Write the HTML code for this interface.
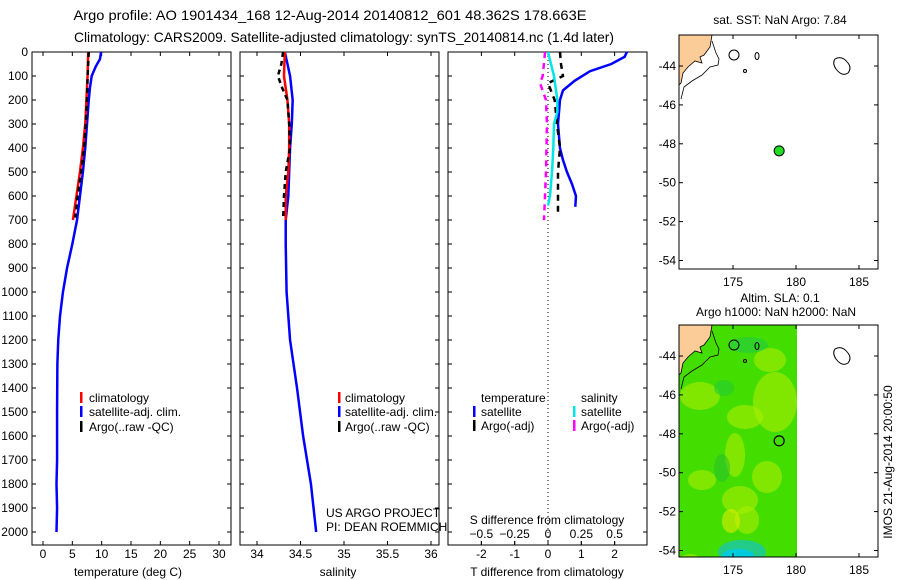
<!DOCTYPE html>
<html><head><meta charset="utf-8"><style>
body{margin:0;background:#fff;}
svg{display:block;font-family:"Liberation Sans",sans-serif;}
text{font-size:12px;fill:#000;}
</style></head><body>
<svg id="c" width="900" height="580">
<defs>
<clipPath id="m2clip"><rect x="679" y="325" width="118" height="232"/></clipPath>
</defs>
<text x="330" y="20" text-anchor="middle" style="font-size:14px" textLength="513" lengthAdjust="spacingAndGlyphs">Argo profile: AO 1901434_168 12-Aug-2014 20140812_601 48.362S 178.663E</text>
<text x="344" y="42" text-anchor="middle" style="font-size:14px" textLength="540" lengthAdjust="spacingAndGlyphs">Climatology: CARS2009. Satellite-adjusted climatology: synTS_20140814.nc (1.4d later)</text>
<g id="g"></g>
</svg>
<script>
// ---- data ----
const depthTicks=[0,100,200,300,400,500,600,700,800,900,1000,1100,1200,1300,1400,1500,1600,1700,1800,1900,2000];
const tTicks=[0,5,10,15,20,25,30];
const sTicks=[34,34.5,35,35.5,36];
const dTTicks=[-2,-1,0,1,2];
const dSTicks=[-0.5,-0.25,0,0.25,0.5];
const dSLabels=["−0.5","−0.25","0","0.25","0.5"];
const tClimDepth=[0,100,200,300,400,500,600,700];
const tClim=[7.7,7.6,7.4,7.2,6.8,6.3,5.7,5.1];
const tArgoDepth=[0,50,100,200,300,400,500,600,690];
const tArgo=[7.8,7.7,7.6,7.5,7.3,7.0,6.5,5.9,5.5];
const tSatDepth=[0,30,60,100,150,200,300,400,500,600,700,800,900,1000,1100,1200,1300,1500,1700,1800,1900,2000];
const tSat=[9.9,9.7,9.0,8.3,8.0,7.8,7.5,7.2,6.8,6.3,5.8,5.0,4.1,3.4,2.9,2.6,2.45,2.4,2.4,2.3,2.4,2.3];
const sClimDepth=[0,100,200,300,400,500,600,700];
const sClim=[34.32,34.31,34.35,34.37,34.37,34.36,34.33,34.33];
const sArgoDepth=[0,50,100,150,200,300,400,500,600,700];
const sArgo=[34.30,34.28,34.24,34.29,34.35,34.37,34.38,34.33,34.31,34.30];
const sSatDepth=[0,50,100,200,300,400,500,600,700,800,1000,1200,1400,1600,1800,2000];
const sSat=[34.32,34.35,34.38,34.41,34.40,34.38,34.37,34.36,34.33,34.33,34.34,34.38,34.46,34.53,34.62,34.68];
const dTSatDepth=[0,20,50,80,120,160,200,300,400,450,500,550,600,645];
const dTSat=[2.37,2.3,1.9,1.26,0.8,0.45,0.36,0.3,0.36,0.45,0.57,0.72,0.84,0.82];
const dTArgoDepth=[0,50,100,130,200,300,400,500,600,680];
const dTArgo=[0.36,0.39,0.45,0.0,0.2,0.27,0.36,0.3,0.3,0.3];
const dSSatDepth=[0,100,200,250,300,400,500,600,640];
const dSSat=[0.0,0.045,0.07,0.07,0.045,0.04,0.03,0.015,0.0];
const dSArgoDepth=[0,100,130,200,300,500,700];
const dSArgo=[-0.022,-0.04,-0.06,-0.015,-0.008,-0.015,-0.03];
const latTicks=[-44,-46,-48,-50,-52,-54];
const lonTicks=[175,180,185];
const argoLon=[178.663], argoLat=[-48.362];

// ---- helpers ----
const NS="http://www.w3.org/2000/svg";
const G=document.getElementById('g');
function el(t,a,p){const e=document.createElementNS(NS,t);for(const k in a)e.setAttribute(k,a[k]);(p||G).appendChild(e);return e;}
const Y0=52,YB=545;
const yD=d=>Y0+d*0.24;
const xT=v=>43+v*5.867;
const xS=v=>257+(v-34)*87;
const xdT=v=>548+v*33.3;
const xdS=v=>548+v*133.3;
function line(xs,ds,fx,color,dash,name){
  const p=el('polyline',{points:xs.map((v,i)=>fx(v)+','+yD(ds[i])).join(' '),fill:'none',stroke:color,'stroke-width':2.5,'stroke-dasharray':dash||'none'});
  
  
}
function panel(x0,x1,name){
  const r=el('rect',{x:x0,y:Y0,width:x1-x0,height:YB-Y0,fill:'none',stroke:'#000','stroke-width':1});
  
  
  depthTicks.forEach(d=>{el('line',{x1:x0,x2:x0+4,y1:yD(d),y2:yD(d),stroke:'#000'});el('line',{x1:x1,x2:x1-4,y1:yD(d),y2:yD(d),stroke:'#000'});});
}
function xticks(vals,fx,labels,y,top){
  vals.forEach((v,i)=>{const x=fx(v);
    el('line',{x1:x,x2:x,y1:YB,y2:YB-4,stroke:'#000'});
    if(top) el('line',{x1:x,x2:x,y1:Y0,y2:Y0+4,stroke:'#000'});
    const t=el('text',{x:x,y:y,'text-anchor':'middle'});t.textContent=labels?labels[i]:String(v);
    
    
  });
}
function txt(s,x,y,name,anchor){const t=el('text',{x:x,y:y,'text-anchor':anchor||'start'});t.textContent=s;
  
  return t;}
function legMark(x,y,c,name){const r=el('rect',{x:x,y:y-10,width:2.5,height:11,fill:c});
  
  }

// ---- panel 1: temperature ----
panel(32,231,'temperature-panel');
depthTicks.forEach(d=>{const t=txt(String(d),28,yD(d)+4,'y-tick-label','end');});
xticks(tTicks,xT,null,558,true);
txt('temperature (deg C)',128,576,'x-axis-title-temperature','middle');
line(tSat,tSatDepth,xT,'#0000ff',null,'temp-satellite-line');
line(tClim,tClimDepth,xT,'#ff0000',null,'temp-climatology-line');
line(tArgo,tArgoDepth,xT,'#000','5,4','temp-argo-line');
legMark(80,402,'#ff0000','legend-climatology-mark');txt('climatology',89,402,'legend-climatology');
legMark(80,416,'#0000ff','legend-satellite-mark');txt('satellite-adj. clim.',89,416,'legend-satellite');
legMark(80,431,'#000','legend-argo-mark');txt('Argo(..raw -QC)',89,431,'legend-argo');

// ---- panel 2: salinity ----
panel(240,439,'salinity-panel');
xticks(sTicks,xS,null,558,true);
txt('salinity',338,576,'x-axis-title-salinity','middle');
line(sSat,sSatDepth,xS,'#0000ff',null,'sal-satellite-line');
line(sClim,sClimDepth,xS,'#ff0000',null,'sal-climatology-line');
line(sArgo,sArgoDepth,xS,'#000','5,4','sal-argo-line');
legMark(338,402,'#ff0000','legend2-climatology-mark');txt('climatology',345,402,'legend2-climatology');
legMark(338,416,'#0000ff','legend2-satellite-mark');txt('satellite-adj. clim.',345,416,'legend2-satellite');
legMark(338,431,'#000','legend2-argo-mark');txt('Argo(..raw -QC)',345,431,'legend2-argo');
txt('US ARGO PROJECT',326,517,'project-label');
txt('PI: DEAN ROEMMICH',326,531,'pi-label');

// ---- panel 3: differences ----
panel(448,647,'difference-panel');
el('line',{x1:548,x2:548,y1:Y0,y2:YB,stroke:'#000','stroke-dasharray':'1,3'});
xticks(dTTicks,xdT,null,558,true);
dSTicks.forEach((v,i)=>{const x=xdS(v);el('line',{x1:x,x2:x,y1:YB,y2:YB-4,stroke:'#000'});
  const t=txt(dSLabels[i],x,538,'s-tick-label','middle');});
txt('S difference from climatology',547,524,'s-axis-title','middle');
txt('T difference from climatology',547,576,'t-axis-title','middle');
line(dTSat,dTSatDepth,xdT,'#0000ff',null,'dT-satellite-line');
line(dTArgo,dTArgoDepth,xdT,'#000','6,5','dT-argo-line');
line(dSSat,dSSatDepth,xdS,'#00e5e5',null,'dS-satellite-line');
line(dSArgo,dSArgoDepth,xdS,'#ff00ff','6,5','dS-argo-line');
txt('temperature',481,402,'legend3-temperature-heading');
txt('salinity',581,402,'legend3-salinity-heading');
legMark(473,416,'#0000ff','legend3-tsat-mark');txt('satellite',481,416,'legend3-tsat');
legMark(473,430,'#000','legend3-targo-mark');txt('Argo(-adj)',481,430,'legend3-targo');
legMark(573,416,'#00e5e5','legend3-ssat-mark');txt('satellite',581,416,'legend3-ssat');
legMark(573,430,'#ff00ff','legend3-sargo-mark');txt('Argo(-adj)',581,430,'legend3-sargo');

// ---- maps ----
function drawMap(top,bottom,latY0,name,green){
  const lat=v=>latY0+(-44-v)*19.45;
  const lon=v=>733+(v-175)*12.6;
  if(green){
    const gg=el('g',{'clip-path':'url(#m2clip)'});
    el('rect',{x:679,y:top,width:118,height:bottom-top,fill:'#44dd00'},gg);
    [[700,396,20,14],[745,417,18,12],[770,360,16,12],[775,402,22,30],[702,480,14,10],[735,455,10,22],[740,500,18,14],[747,520,12,14],[767,477,15,16],[690,560,10,6]].forEach(c=>{
      el('ellipse',{cx:c[0],cy:c[1],rx:c[2],ry:c[3],fill:'#aaee00',opacity:0.6},gg);});
    el('ellipse',{cx:731,cy:521,rx:9,ry:12,fill:'#ddee00',opacity:0.6},gg);
    el('ellipse',{cx:748,cy:345,rx:20,ry:8,fill:'#22cc44',opacity:0.6},gg);
    el('ellipse',{cx:724,cy:388,rx:10,ry:8,fill:'#22cc33',opacity:0.6},gg);
    el('ellipse',{cx:722,cy:468,rx:8,ry:14,fill:'#22bb33',opacity:0.5},gg);
    el('ellipse',{cx:742,cy:552,rx:24,ry:12,fill:'#22cc88'},gg);
    el('ellipse',{cx:738,cy:556,rx:16,ry:7,fill:'#00ccdd'},gg);
  }
  el('path',{d:`M679 ${top} L712 ${top} L710 ${top+12} L704 ${top+20} L700 ${top+22} L702 ${top+28} L695 ${top+26} L688 ${top+32} L683 ${top+38} L681 ${top+48} L679 ${top+50} Z`,fill:'#fbcb98',stroke:'#000','stroke-width':0.8});
  el('path',{d:`M712 ${top+6} L716 ${top+18} L719 ${top+24} L718 ${top+30} L710 ${top+32} L702 ${top+40} L692 ${top+46} L684 ${top+52} L681 ${top+64}`,fill:'none',stroke:'#000','stroke-width':0.8});
  el('ellipse',{cx:734,cy:top+20,rx:5,ry:5,fill:'none',stroke:'#000'});
  el('ellipse',{cx:757,cy:top+21,rx:2,ry:3.5,fill:'none',stroke:'#000'});
  el('circle',{cx:745,cy:top+36,r:1.5,fill:'none',stroke:'#000'});
  el('path',{d:`M835 ${top+24} Q842 ${top+20} 848 ${top+28} Q852 ${top+33} 848 ${top+38} Q842 ${top+42} 836 ${top+34} Q832 ${top+28} 835 ${top+24}Z`,fill:'none',stroke:'#000'});
  const fr=el('rect',{x:679,y:top,width:199,height:bottom-top,fill:'none',stroke:'#000'});
  
  
  latTicks.forEach(v=>{const y=lat(v);el('line',{x1:679,x2:683,y1:y,y2:y,stroke:'#000'});el('line',{x1:878,x2:874,y1:y,y2:y,stroke:'#000'});
    txt(String(v),676,y+4,'map-lat-label','end');});
  lonTicks.forEach(v=>{const x=lon(v);el('line',{x1:x,x2:x,y1:bottom,y2:bottom-4,stroke:'#000'});el('line',{x1:x,x2:x,y1:top,y2:top+4,stroke:'#000'});
    txt(String(v),x,bottom+17,'map-lon-label','middle');});
  return {lat,lon};
}
const m1=drawMap(35,269,66,'sst-map-frame',false);
const pt=el('circle',{cx:m1.lon(argoLon[0]),cy:m1.lat(argoLat[0]),r:5,fill:'#22dd22',stroke:'#000'});


txt('sat. SST: NaN Argo: 7.84',780,24,'sst-map-title','middle');
const m2=drawMap(325,557,356,'sla-map-frame',true);
const pt2=el('circle',{cx:m2.lon(argoLon[0]),cy:m2.lat(argoLat[0]),r:5,fill:'none',stroke:'#000','stroke-width':1.2});


txt('Altim. SLA: 0.1',780,302,'sla-map-title','middle');
txt('Argo h1000: NaN h2000: NaN',776,316,'sla-map-subtitle','middle');
const rt=txt('IMOS 21-Aug-2014 20:00:50',0,0,'imos-timestamp','middle');
rt.setAttribute('transform','translate(892,462) rotate(-90)');
</script>
</body></html>
